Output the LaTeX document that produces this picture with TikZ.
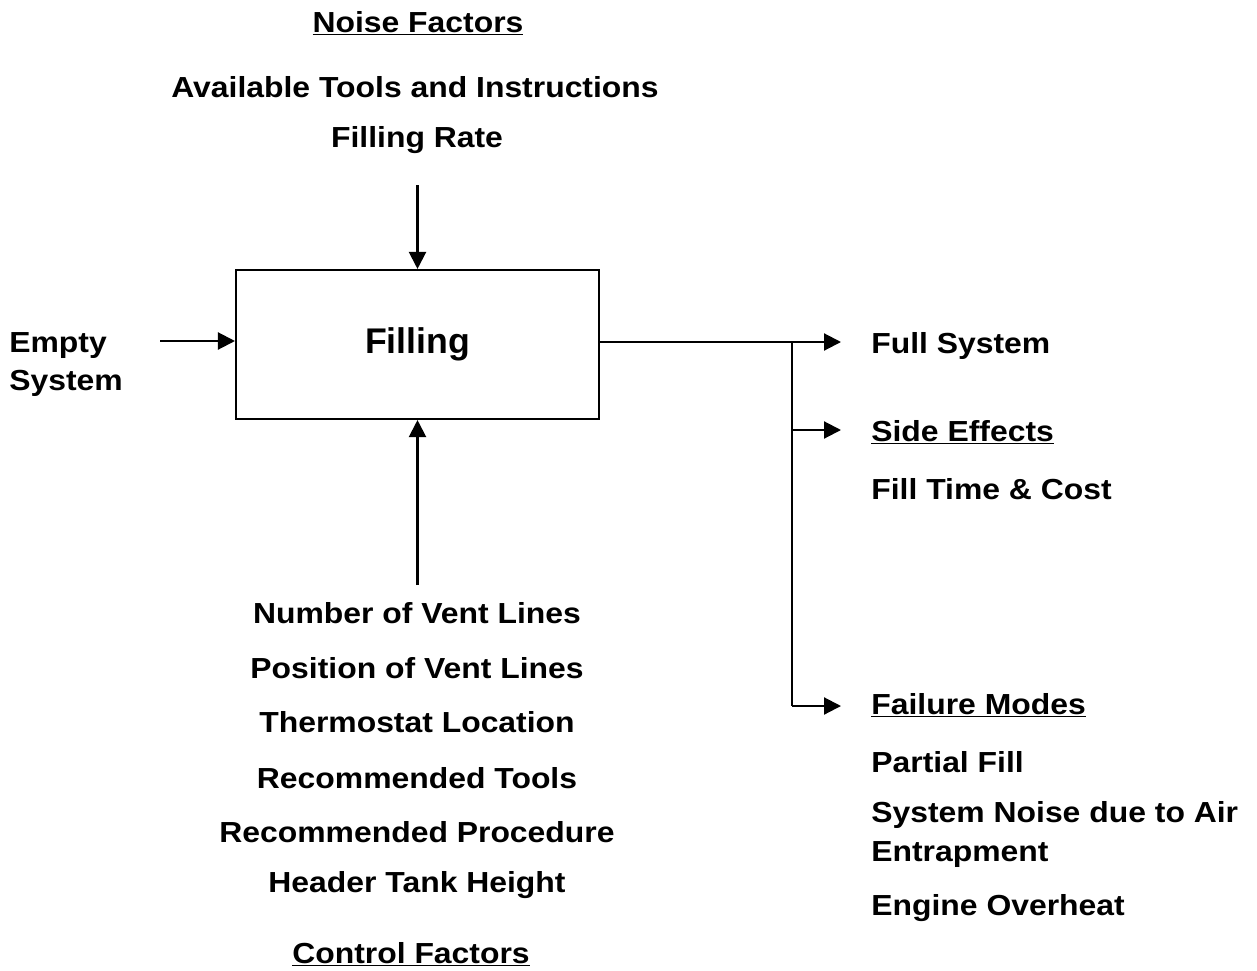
\documentclass[tikz,border=0pt]{standalone}
\usepackage{fontspec}
\setmainfont{Liberation Sans}
\newfontfamily\wideSans[FakeStretch=1.1]{Liberation Sans}
\usetikzlibrary{arrows.meta,positioning}
\tikzset{
  blockBox/.style={rectangle,draw,line width=1.2pt,minimum width=7.26cm,
                   minimum height=2.98cm,inner sep=0pt,
                   font=\fontsize{20.3}{24}\selectfont\bfseries},
  facText/.style={inner sep=0pt,anchor=base,
                  font=\wideSans\fontsize{16.5}{20}\selectfont\bfseries},
  flowArrow/.style={-{Triangle[length=0.34cm,width=0.34cm]},line width=1.2pt},
}
\begin{document}
\begin{tikzpicture}[x=0.02cm,y=-0.02cm,
  outText/.style={facText,anchor=base west}
]
  \useasboundingbox (0,0) rectangle (1257,970);
  % central block
  \node[blockBox](filling) at (417.5,344.5) {Filling};
  % noise factors
  \node[facText](noiseHead) at (418,32) {\underline{Noise Factors}};
  \node[facText](noiseA) at (415,97) {Available Tools and Instructions};
  \node[facText](noiseB) at (417,147) {Filling Rate};
  \coordinate (noiseEnd) at (417,185);
  \draw[flowArrow](filling.north |- noiseEnd)--(filling.north);
  % control factors
  \foreach \n/\y/\t in {ctrlA/623/Number of Vent Lines,
                        ctrlB/678/Position of Vent Lines,
                        ctrlC/732/Thermostat Location,
                        ctrlD/788/Recommended Tools,
                        ctrlE/842/Recommended Procedure,
                        ctrlF/892/Header Tank Height}{
    \node[facText](\n) at (417,\y) {\t};
  }
  \node[facText](ctrlHead) at (411,963) {\underline{Control Factors}};
  \coordinate (ctrlStart) at (417,585);
  \draw[flowArrow](filling.south |- ctrlStart)--(filling.south);
  % input
  \node[outText](emptyA) at (9,352) {Empty};
  \node[outText](emptyB) at (9,390) {System};
  \coordinate (inStart) at (160,341);
  \draw[flowArrow](inStart)--(filling.west |- inStart);
  % outputs
  \coordinate (outTip) at (841,342);
  \coordinate (sideTip) at (841,430);
  \coordinate (failTip) at (841,706);
  \coordinate (tap) at (792,342);
  \draw[flowArrow](filling.east |- outTip)--(outTip);
  \draw[line width=1.2pt](tap)--(tap |- failTip);
  \draw[flowArrow](tap |- sideTip)--(sideTip);
  \draw[flowArrow](tap |- failTip)--(failTip);
  \node[outText](fullSys) at (871,353) {Full System};
  \node[outText](sideHead) at (871,441) {\underline{Side Effects}};
  \node[outText](sideA) at (871,499) {Fill Time \& Cost};
  \node[outText](failHead) at (871,714) {\underline{Failure Modes}};
  \foreach \n/\y/\t in {failA/772/Partial Fill,
                        failB/822/System Noise due to Air,
                        failC/861/Entrapment,
                        failD/915/Engine Overheat}{
    \node[outText](\n) at (871,\y) {\t};
  }
\end{tikzpicture}
\end{document}
